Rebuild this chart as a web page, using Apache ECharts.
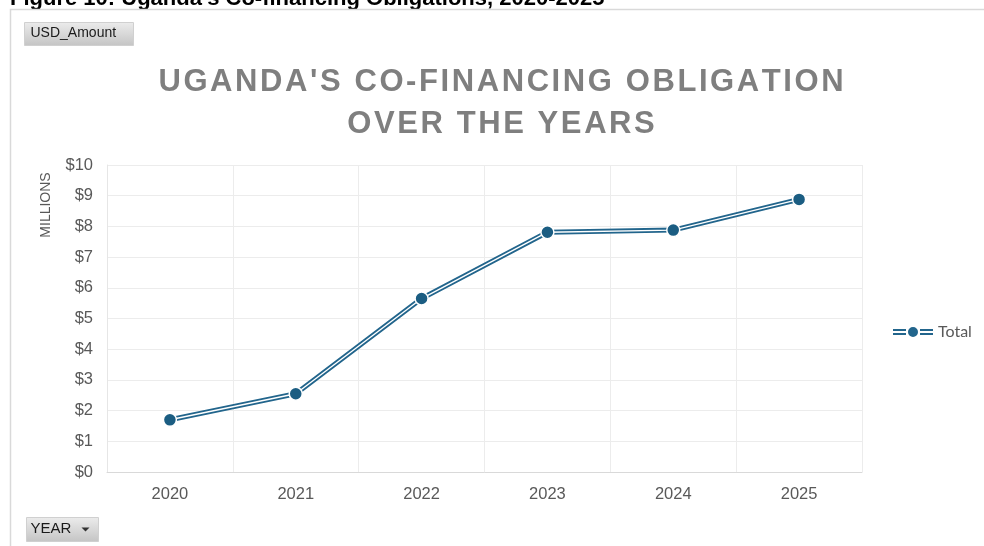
<!DOCTYPE html>
<html>
<head>
<meta charset="utf-8">
<script src="https://cdn.jsdelivr.net/npm/echarts@6/dist/echarts.min.js"></script>
<style>
  html, body { margin: 0; padding: 0; background: #fff; }
  #chart { width: 984px; height: 546px; }
</style>
</head>
<body>
<div id="chart"></div>
<script>
// Uganda co-financing obligation, USD millions per year
const years = ['2020', '2021', '2022', '2023', '2024', '2025'];
const totalMillions = [1.7, 2.55, 5.65, 7.81, 7.88, 8.88];
const yTicks = { min: 0, max: 10, step: 1 };

const LINE_BLUE = '#22658c';
const DOT_BLUE = '#1b5d82';
const HS = '\u200A';
const spaced = s => s.split('').join(HS);

const chart = echarts.init(document.getElementById('chart'), null, { renderer: 'canvas' });

const buttonFill = new echarts.graphic.LinearGradient(0, 0, 0, 1, [
  { offset: 0, color: '#ececec' },
  { offset: 1, color: '#c4c4c4' }
]);

chart.setOption({
  animation: false,
  backgroundColor: '#ffffff',
  title: {
    text: spaced("UGANDA'S CO-FINANCING OBLIGATION") + '\n' + spaced('OVER THE YEARS'),
    left: 496,
    top: 56,
    textAlign: 'center',
    textStyle: {
      fontFamily: 'Liberation Sans',
      fontWeight: 'bold',
      fontSize: 31,
      color: '#7f7f7f',
      lineHeight: 42
    }
  },
  legend: {
    data: ['Total'],
    left: 893,
    top: 324,
    padding: 0,
    icon: 'path://M0,3h13v2h-13z M0,7h13v2h-13z M27,3h13v2h-13z M27,7h13v2h-13z M15,6a5,5 0 1,0 10,0a5,5 0 1,0 -10,0z',
    itemWidth: 40,
    itemHeight: 12,
    itemGap: 4,
    textStyle: { fontFamily: 'Lato', fontSize: 16, color: '#595959', padding: [0, 0, 0, 0] }
  },
  grid: { left: 107, right: 122, top: 165, bottom: 74 },
  xAxis: {
    type: 'category',
    data: years,
    boundaryGap: true,
    axisLine: { show: true, lineStyle: { color: '#d9d9d9', width: 1 } },
    axisTick: { show: false },
    axisLabel: { margin: 14, fontFamily: 'Liberation Sans', fontSize: 16.5, color: '#595959' },
    splitLine: { show: true, lineStyle: { color: '#ececec', width: 1 } }
  },
  yAxis: {
    type: 'value',
    min: yTicks.min,
    max: yTicks.max,
    interval: yTicks.step,
    axisLine: { show: true, lineStyle: { color: '#e6e6e6' } },
    axisTick: { show: false },
    axisLabel: { margin: 14, fontFamily: 'Liberation Sans', fontSize: 16.5, color: '#595959', formatter: v => '$' + v },
    splitLine: { show: true, lineStyle: { color: '#ececec', width: 1 } }
  },
  series: [
    {
      name: 'Total',
      type: 'line',
      data: totalMillions,
      color: LINE_BLUE,
      showSymbol: false,
      symbol: 'none',
      lineStyle: { color: LINE_BLUE, width: 5 },
      z: 2
    },
    {
      name: 'Total-core',
      type: 'line',
      data: totalMillions,
      symbol: 'none',
      lineStyle: { color: '#ffffff', width: 1.4 },
      z: 3,
      silent: true
    },
    {
      name: 'Total-dots',
      type: 'line',
      data: totalMillions,
      symbol: 'circle',
      symbolSize: 13,
      showSymbol: true,
      lineStyle: { width: 0, opacity: 0 },
      itemStyle: { color: DOT_BLUE, borderColor: '#ffffff', borderWidth: 1.5 },
      z: 4,
      silent: true
    }
  ],
  graphic: [
    {
      type: 'text',
      left: 10,
      top: -12,
      style: {
        text: "Figure 10: Uganda's Co-financing Obligations, 2020-2025",
        font: 'bold 22px "Liberation Sans"',
        fill: '#000000'
      }
    },
    {
      type: 'rect',
      shape: { x: 10.5, y: 9.5, width: 990, height: 560 },
      style: { fill: 'none', stroke: '#d9d9d9', lineWidth: 1.5 },
      silent: true
    },
    {
      // y-axis unit caption
      type: 'text',
      x: 46,
      y: 205,
      rotation: Math.PI / 2,
      style: {
        text: 'MILLIONS',
        font: '14px "Liberation Sans"',
        fill: '#595959',
        align: 'center',
        verticalAlign: 'middle'
      }
    },
    {
      type: 'group',
      left: 24,
      top: 22,
      children: [
        { type: 'rect', shape: { x: 0, y: 0, width: 109, height: 23 }, style: { fill: buttonFill, stroke: '#d0d0d0', lineWidth: 1 } },
        { type: 'text', x: 6, y: 4, style: { text: 'USD_Amount', font: '14px "Liberation Sans Narrow", "Liberation Sans"', fill: '#1a1a1a' } }
      ]
    },
    {
      type: 'group',
      left: 26,
      top: 517,
      children: [
        { type: 'rect', shape: { x: 0, y: 0, width: 72, height: 24 }, style: { fill: buttonFill, stroke: '#d0d0d0', lineWidth: 1 } },
        { type: 'text', x: 4, y: 4, style: { text: 'YEAR', font: '15px "Liberation Sans Narrow", "Liberation Sans"', fill: '#1a1a1a' } },
        { type: 'polygon', shape: { points: [[55, 10], [63, 10], [59, 14]] }, style: { fill: '#333333' } }
      ]
    }
  ]
});
</script>
</body>
</html>
